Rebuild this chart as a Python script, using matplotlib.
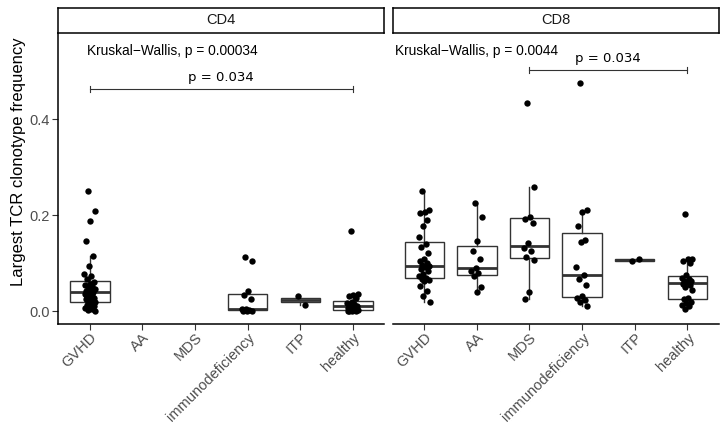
import numpy as np
import matplotlib
matplotlib.use("Agg")
import matplotlib.pyplot as plt

plt.rcParams['font.family'] = ['Liberation Sans', 'DejaVu Sans']

groups = ["GVHD", "AA", "MDS", "immunodeficiency", "ITP", "healthy"]

# CD4 panel
cd4_gvhd = [0.25, 0.208, 0.188, 0.147, 0.116, 0.095, 0.078, 0.074, 0.068,
            0.062, 0.058, 0.055, 0.052, 0.05, 0.047, 0.045, 0.043, 0.041,
            0.039, 0.037, 0.034, 0.031, 0.029, 0.027, 0.025, 0.023, 0.021,
            0.019, 0.016, 0.013, 0.011, 0.009, 0.007, 0.005, 0.003, 0.002]
cd4_aa = []
cd4_mds = []
cd4_immuno = [0.114, 0.105, 0.042, 0.034, 0.027, 0.006, 0.005, 0.004,
              0.003, 0.002, 0.001, 0.001]
cd4_itp = [0.033, 0.014]
cd4_healthy = [0.167, 0.037, 0.035, 0.032, 0.028, 0.02, 0.018, 0.015, 0.013,
               0.012, 0.010, 0.008, 0.006, 0.005, 0.004, 0.003, 0.002, 0.002,
               0.001, 0.001]

# CD8 panel
cd8_gvhd = [0.25, 0.212, 0.207, 0.204, 0.19, 0.178, 0.155, 0.14, 0.135,
            0.121, 0.109, 0.104, 0.1, 0.097, 0.094, 0.092, 0.088, 0.085,
            0.078, 0.073, 0.07, 0.068, 0.066, 0.0625, 0.052, 0.042, 0.032,
            0.019]
cd8_aa = [0.225, 0.196, 0.147, 0.126, 0.109, 0.09, 0.085, 0.08, 0.073,
          0.05, 0.04]
cd8_mds = [0.434, 0.258, 0.196, 0.193, 0.184, 0.142, 0.131, 0.126, 0.113,
           0.107, 0.04, 0.027]
cd8_immuno = [0.475, 0.21, 0.206, 0.178, 0.148, 0.145, 0.093, 0.075, 0.068,
              0.056, 0.033, 0.028, 0.023, 0.019, 0.011]
cd8_itp = [0.104, 0.110]
cd8_healthy = [0.203, 0.11, 0.11, 0.105, 0.1, 0.076, 0.07, 0.067, 0.064,
               0.064, 0.062, 0.058, 0.055, 0.05, 0.045, 0.028, 0.025, 0.02,
               0.018, 0.014, 0.012, 0.006]

panels = [
    ("CD4", [cd4_gvhd, cd4_aa, cd4_mds, cd4_immuno, cd4_itp, cd4_healthy],
     "Kruskal\u2212Wallis, p = 0.00034", 0.95, (1, 6), 0.462, "p = 0.034"),
    ("CD8", [cd8_gvhd, cd8_aa, cd8_mds, cd8_immuno, cd8_itp, cd8_healthy],
     "Kruskal\u2212Wallis, p = 0.0044", 0.44, (3, 6), 0.502, "p = 0.034"),
]

W, H = 725, 426
fig = plt.figure(figsize=(W / 100, H / 100), dpi=100)

ylim = (-0.026, 0.579)
panel_left = [58.3, 392.7]
panel_w = 326.1
top_px, bot_px = 33, 324

for k, (name, data, kw, kwx, pair, ybr, ptxt) in enumerate(panels):
    l = panel_left[k]
    ax = fig.add_axes([l / W, (H - bot_px) / H, panel_w / W, (bot_px - top_px) / H])
    sax = fig.add_axes([l / W, (H - 32.7) / H, panel_w / W, 25.2 / H])
    sax.set_xticks([])
    sax.set_yticks([])
    for s in sax.spines.values():
        s.set_linewidth(1.1)
        s.set_color("black")
    sax.text(0.5, 0.5, name, ha="center", va="center", fontsize=10.5,
             color="#1A1A1A", transform=sax.transAxes)

    pos = [i + 1 for i, d in enumerate(data) if len(d) > 0]
    vals = [d for d in data if len(d) > 0]
    ax.boxplot(vals, positions=pos, widths=0.75, showfliers=False,
               whis=1.5, patch_artist=True,
               boxprops=dict(facecolor="white", edgecolor="#333333", linewidth=1.0),
               whiskerprops=dict(color="#333333", linewidth=1.0),
               capprops=dict(linewidth=0),
               medianprops=dict(color="#333333", linewidth=2.0))

    # jitter positions (deterministic spread)
    for p, d in zip(pos, vals):
        n = len(d)
        off = ((np.arange(n) * 0.618034 + 0.3) % 1 - 0.5) * 0.22
        ax.scatter(p + off, d, s=21, color="black", zorder=5, linewidths=0)

    ax.set_xlim(0.4, 6.6)
    ax.set_ylim(*ylim)
    ax.set_xticks(range(1, 7))
    ax.set_xticklabels(groups, rotation=45, ha="right", va="top",
                       rotation_mode="anchor", fontsize=10.5, color="#4D4D4D")
    ax.tick_params(axis="x", length=4, width=0.8, color="#333333", pad=0.5)
    ax.spines["top"].set_visible(False)
    ax.spines["right"].set_visible(False)
    ax.spines["bottom"].set_linewidth(1.1)
    if k == 0:
        ax.spines["left"].set_linewidth(1.1)
        ax.set_yticks([0.0, 0.2, 0.4])
        ax.set_yticklabels(["0.0", "0.2", "0.4"], fontsize=10.5, color="#4D4D4D")
        ax.tick_params(axis="y", length=4, width=0.8, color="#333333", pad=2)
        ax.set_ylabel("Largest TCR clonotype frequency", fontsize=12)
        ax.yaxis.set_label_coords(-0.098, 0.557)
    else:
        ax.spines["left"].set_visible(False)
        ax.set_yticks([])

    # Kruskal-Wallis label
    ax.text(kwx, 0.541, kw, ha="left", va="center", fontsize=9.9)

    # pairwise bracket
    x1, x2 = pair
    ax.plot([x1, x2], [ybr, ybr], color="#333333", lw=0.8)
    for xe in (x1, x2):
        ax.plot([xe, xe], [ybr - 0.006, ybr + 0.006], color="#333333", lw=0.8)
    ax.text((x1 + x2) / 2, ybr + 0.01, ptxt, ha="center", va="bottom",
            fontsize=9.5, family="DejaVu Sans")

fig.savefig("out.png", dpi=100)
